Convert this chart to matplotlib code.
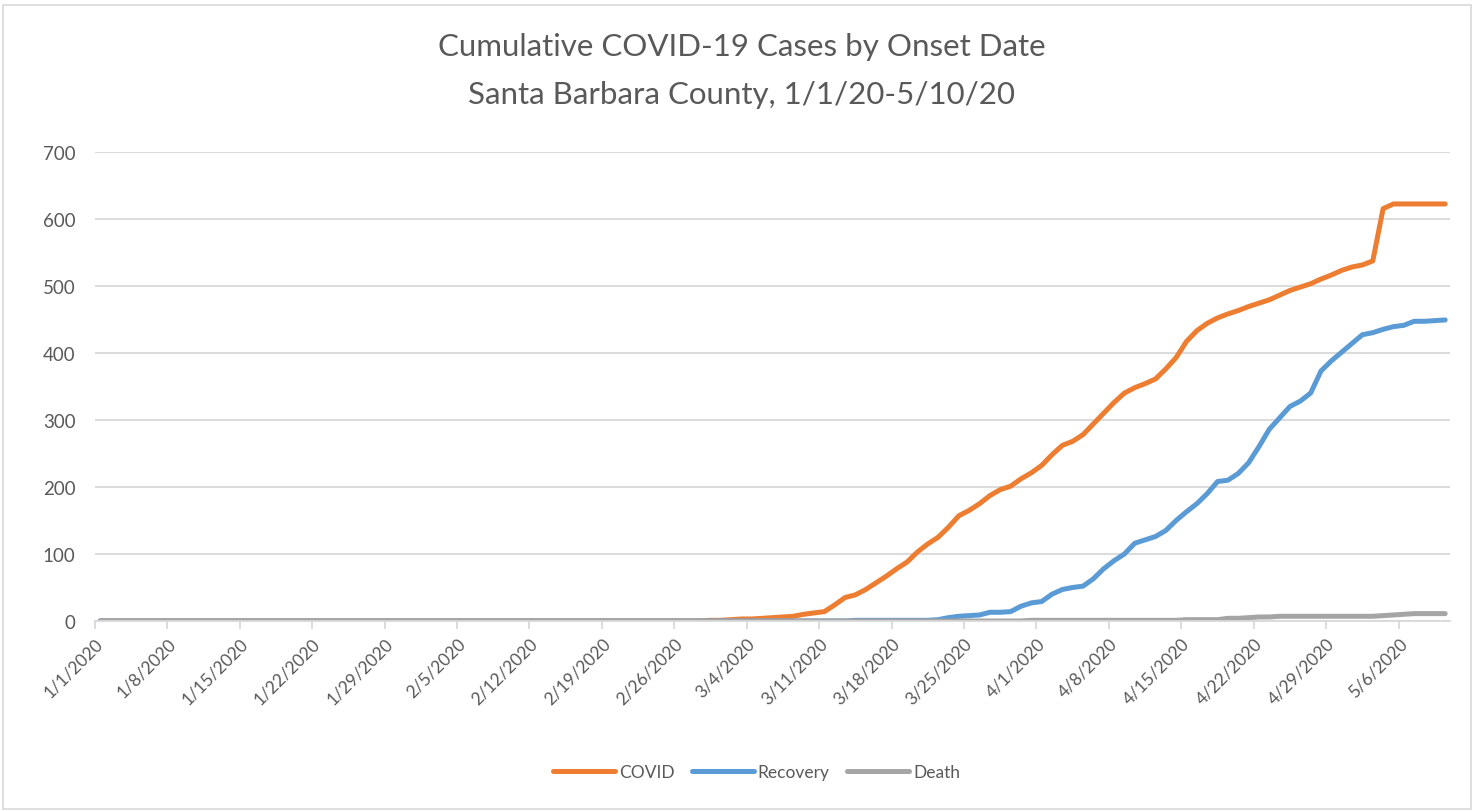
import matplotlib.pyplot as plt
import matplotlib.patches as patches
import numpy as np
import pandas as pd

# daily dates 1/1/2020 - 5/10/2020
dates = pd.date_range("2020-01-01", "2020-05-10", freq="D")

# values, starting from the first non-zero day
covid_start = 59
covid_vals = [1, 1, 2, 3, 3, 4, 5, 6, 7, 10, 12, 14, 24, 35, 39, 47, 57, 67, 78, 88,
              103, 115, 125, 140, 157, 165, 175, 187, 196, 201, 212, 221, 232, 248,
              262, 268, 278, 294, 310, 326, 340, 348, 354, 361, 376, 393, 417, 433,
              444, 452, 458, 463, 469, 474, 479, 486, 493, 498, 503, 510, 516, 523,
              528, 531, 537, 615, 622, 622, 622, 622, 622, 622]

recovery_start = 73
recovery_vals = [1, 1, 1, 1, 1, 1, 1, 1,
                 2, 5, 7, 8, 9, 13, 13, 14, 22, 27,
                 29, 40, 47, 50, 52, 63, 78, 90, 100, 116,
                 121, 126, 135, 150, 163, 175, 190, 208, 210, 220,
                 236, 260, 286, 303, 320, 328, 340, 373, 388, 401,
                 414, 427, 430, 435, 439, 441, 447, 447, 448, 449]

death_start = 90
death_vals = [1] * 15 + [2, 2, 2, 2, 4, 4, 5, 6, 6] + [7] * 10 + [8, 9, 10, 11, 11, 11, 11]

series_names = ["COVID", "Recovery", "Death"]
colors = ["#ED7D31", "#5B9BD5", "#A5A5A5"]


def pad(start, vals):
    out = np.zeros(len(dates))
    out[start:start + len(vals)] = vals
    return out


series = [pad(covid_start, covid_vals), pad(recovery_start, recovery_vals),
          pad(death_start, death_vals)]

plt.rcParams["font.family"] = ["Lato", "DejaVu Sans"]
text_col = "#595959"

fig = plt.figure(figsize=(14.83, 8.12), dpi=100)
ax = fig.add_axes([0.064, 0.234, 0.914, 0.578])

x = np.arange(len(dates))
for name, y, c in zip(series_names, series, colors):
    ax.plot(x, y, color=c, lw=3.6, label=name, solid_capstyle="round",
            solid_joinstyle="round")

ax.set_xlim(-0.5, len(dates) - 0.5)
ax.set_ylim(0, 700)
ax.set_yticks(range(0, 701, 100))
ax.yaxis.grid(True, color="#D9D9D9", lw=1.3)
ax.set_axisbelow(True)

tick_idx = np.arange(0, len(dates), 7)
ax.set_xticks(tick_idx - 0.5)
ax.set_xticklabels([f"{d.month}/{d.day}/{d.year}" for d in dates[tick_idx]],
                   rotation=45, ha="right", rotation_mode="anchor")

for s in ["top", "right", "left"]:
    ax.spines[s].set_visible(False)
ax.spines["bottom"].set_color("#D9D9D9")
ax.spines["bottom"].set_linewidth(1.3)
ax.tick_params(axis="x", colors="#D9D9D9", length=6, width=1.3, labelcolor=text_col,
               labelsize=12.5, pad=4)
ax.tick_params(axis="y", length=0, labelcolor=text_col, labelsize=13.5, pad=14)

fig.text(0.5, 0.942, "Cumulative COVID-19 Cases by Onset Date", ha="center",
         va="center", fontsize=22.5, color=text_col)
fig.text(0.5, 0.883, "Santa Barbara County, 1/1/20-5/10/20", ha="center",
         va="center", fontsize=22.5, color=text_col)

fig.legend(loc="center", bbox_to_anchor=(0.51, 0.048), ncol=3, frameon=False,
           fontsize=12.5, handlelength=3.6, columnspacing=1.0, handletextpad=0.2,
           labelcolor=text_col)

fig.patches.append(patches.Rectangle((0.002, 0.002), 0.99, 0.99, transform=fig.transFigure,
                                     fill=False, edgecolor="#D9D9D9", lw=1.2))

fig.savefig("out.png", dpi=100)
